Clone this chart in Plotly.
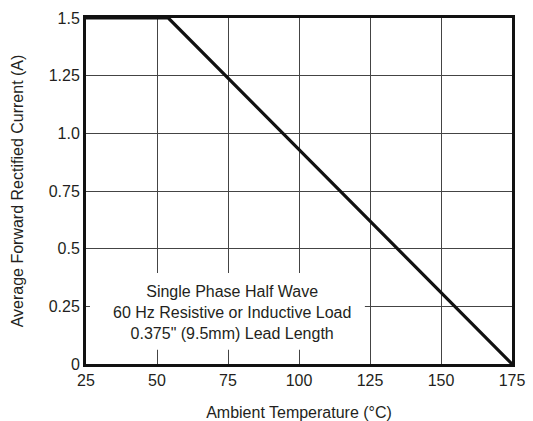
import plotly.graph_objects as go

temperature = [25, 54, 175]
current = [1.5, 1.5, 0.0]

x_ticks = [25, 50, 75, 100, 125, 150, 175]
y_ticks = [0, 0.25, 0.5, 0.75, 1.0, 1.25, 1.5]
y_tick_labels = ["0", "0.25", "0.5", "0.75", "1.0", "1.25", "1.5"]

note_lines = ["Single Phase Half Wave", "60 Hz Resistive or Inductive Load", "0.375\" (9.5mm) Lead Length"]

FONT = "Liberation Sans, Arial, Helvetica, sans-serif"
TXT = "#231f20"

fig = go.Figure()
fig.add_trace(go.Scatter(x=temperature, y=current, mode="lines",
                         line=dict(color="#111", width=3.2), showlegend=False, hoverinfo="skip"))

fig.add_shape(type="rect", x0=26.4, x1=123.2, y0=0.062, y1=0.394, xref="x", yref="y",
              fillcolor="white", line=dict(width=0), layer="between")
fig.add_annotation(x=76.5, y=0.225, xref="x", yref="y", text="<br>".join(note_lines),
                   showarrow=False, align="center", font=dict(family=FONT, size=16, color=TXT))

fig.update_layout(
    width=533, height=421,
    margin=dict(l=86, r=21, t=18, b=57, autoexpand=False),
    paper_bgcolor="white", plot_bgcolor="white",
    font=dict(family=FONT, size=16, color=TXT),
)
fig.update_xaxes(range=[25, 175], tickvals=x_ticks, ticks="", showgrid=True, automargin=False,
                 ticklabeloverflow="allow",
                 gridcolor="#444", gridwidth=1, showline=True, linecolor="#111", linewidth=3,
                 mirror=True, zeroline=False,
                 title=dict(text="Ambient Temperature (°C)", standoff=23, font=dict(size=16)),
                 tickfont=dict(size=16))
fig.update_yaxes(range=[0, 1.5], tickvals=y_ticks, ticktext=y_tick_labels, ticks="", showgrid=True,
                 automargin=False, ticklabeloverflow="allow",
                 gridcolor="#444", gridwidth=1, showline=True, linecolor="#111", linewidth=3,
                 mirror=True, zeroline=False,
                 title=dict(text="Average Forward Rectified Current (A)", standoff=22, font=dict(size=16)),
                 tickfont=dict(size=16))

fig.write_html("out.html", config={"displayModeBar": False},
               post_script="document.body.style.margin='0';")
